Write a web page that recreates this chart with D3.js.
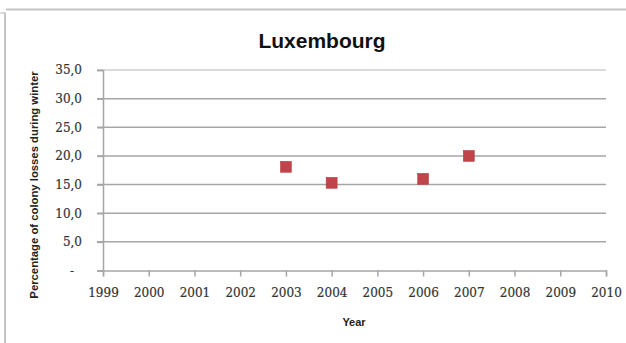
<!DOCTYPE html>
<html>
<head>
<meta charset="utf-8">
<script src="https://cdn.jsdelivr.net/npm/d3@7"></script>
<style>
  html, body { margin: 0; padding: 0; background: #fff; }
  svg { display: block; }
</style>
</head>
<body>
<svg id="chart" width="626" height="343"></svg>
<script>
// Winter colony losses, Luxembourg
const years = [2003, 2004, 2006, 2007];
const losses = [18.1, 15.3, 16.0, 20.0];
const yearTicks = d3.range(1999, 2011);
const lossTicks = [0, 5, 10, 15, 20, 25, 30, 35];

const svg = d3.select("#chart");
const margin = { left: 103, right: 20, top: 70, bottom: 72.5 };
const W = 626, H = 343;

const x = d3.scaleLinear().domain([1999, 2010]).range([margin.left, W - margin.right]);
const y = d3.scaleLinear().domain([0, 35]).range([H - margin.bottom, margin.top]);

// outer frame
svg.append("line").attr("x1", 6).attr("x2", W).attr("y1", 9.5).attr("y2", 9.5)
  .attr("stroke", "#c4c4c4").attr("stroke-width", 2);
svg.append("line").attr("x1", 5).attr("x2", 5).attr("y1", 12).attr("y2", H)
  .attr("stroke", "#c4c4c4").attr("stroke-width", 2);
svg.append("line").attr("x1", 0).attr("x2", 6).attr("y1", 13).attr("y2", 13)
  .attr("stroke", "#d0d0d0").attr("stroke-width", 1.5);

// horizontal gridlines
svg.append("g")
  .selectAll("line")
  .data(lossTicks.filter(d => d > 0))
  .join("line")
  .attr("x1", x(1999) - 6)
  .attr("x2", x(2010))
  .attr("y1", d => y(d))
  .attr("y2", d => y(d))
  .attr("stroke", d => d === 35 ? "#cfcfcf" : "#a6a6a6")
  .attr("stroke-width", 1.5);

// y axis
const yAxis = d3.axisLeft(y)
  .tickValues(lossTicks)
  .tickSize(6)
  .tickPadding(15)
  .tickFormat(d => d === 0 ? "-" : d3.format(".1f")(d).replace(".", ","));
const gy = svg.append("g").attr("transform", `translate(${x(1999)},0)`).call(yAxis);
gy.select(".domain").attr("stroke", "#a6a6a6").attr("stroke-width", 1.5);
gy.selectAll(".tick line").attr("stroke", "#a6a6a6").attr("stroke-width", 1.5);
gy.selectAll(".tick text")
  .attr("font-family", "DejaVu Serif, serif")
  .attr("font-size", 12)
  .attr("fill", "#333")
  .attr("stroke", "#333")
  .attr("stroke-width", 0.2)
  .attr("dx", d => d === 0 ? -8 : 0);

// x axis
const xAxis = d3.axisBottom(x)
  .tickValues(yearTicks)
  .tickSize(6)
  .tickPadding(12)
  .tickFormat(d3.format("d"));
const gx = svg.append("g").attr("transform", `translate(0,${y(0)})`).call(xAxis);
gx.select(".domain").attr("stroke", "#a6a6a6").attr("stroke-width", 1.5);
gx.selectAll(".tick line").attr("stroke", "#a6a6a6").attr("stroke-width", 1.5);
gx.selectAll(".tick text")
  .attr("font-family", "DejaVu Serif, serif")
  .attr("font-size", 12)
  .attr("fill", "#333")
  .attr("stroke", "#333")
  .attr("stroke-width", 0.2);

// data markers
const size = 11;
svg.append("g")
  .selectAll("rect")
  .data(years.map((yr, i) => ({ yr, v: losses[i] })))
  .join("rect")
  .attr("x", d => x(d.yr) - size / 2)
  .attr("y", d => y(d.v) - size / 2)
  .attr("width", size)
  .attr("height", size)
  .attr("fill", "#c0444a")
  .attr("stroke", "#b03a3e")
  .attr("stroke-width", 0.5);

// title
svg.append("text")
  .attr("x", 322).attr("y", 48)
  .attr("text-anchor", "middle")
  .attr("font-family", "Liberation Sans, Arial, sans-serif")
  .attr("font-weight", "bold")
  .attr("font-size", 21)
  .attr("fill", "#111")
  .text("Luxembourg");

// axis titles
svg.append("text")
  .attr("x", 354).attr("y", 326)
  .attr("text-anchor", "middle")
  .attr("font-family", "Liberation Sans, Arial, sans-serif")
  .attr("font-weight", "bold")
  .attr("font-size", 11)
  .attr("fill", "#222")
  .text("Year");

svg.append("text")
  .attr("transform", "translate(38,185) rotate(-90)")
  .attr("text-anchor", "middle")
  .attr("font-family", "Liberation Sans, Arial, sans-serif")
  .attr("font-weight", "bold")
  .attr("font-size", 11.3)
  .attr("fill", "#222")
  .text("Percentage of colony losses during winter");
</script>
</body>
</html>
